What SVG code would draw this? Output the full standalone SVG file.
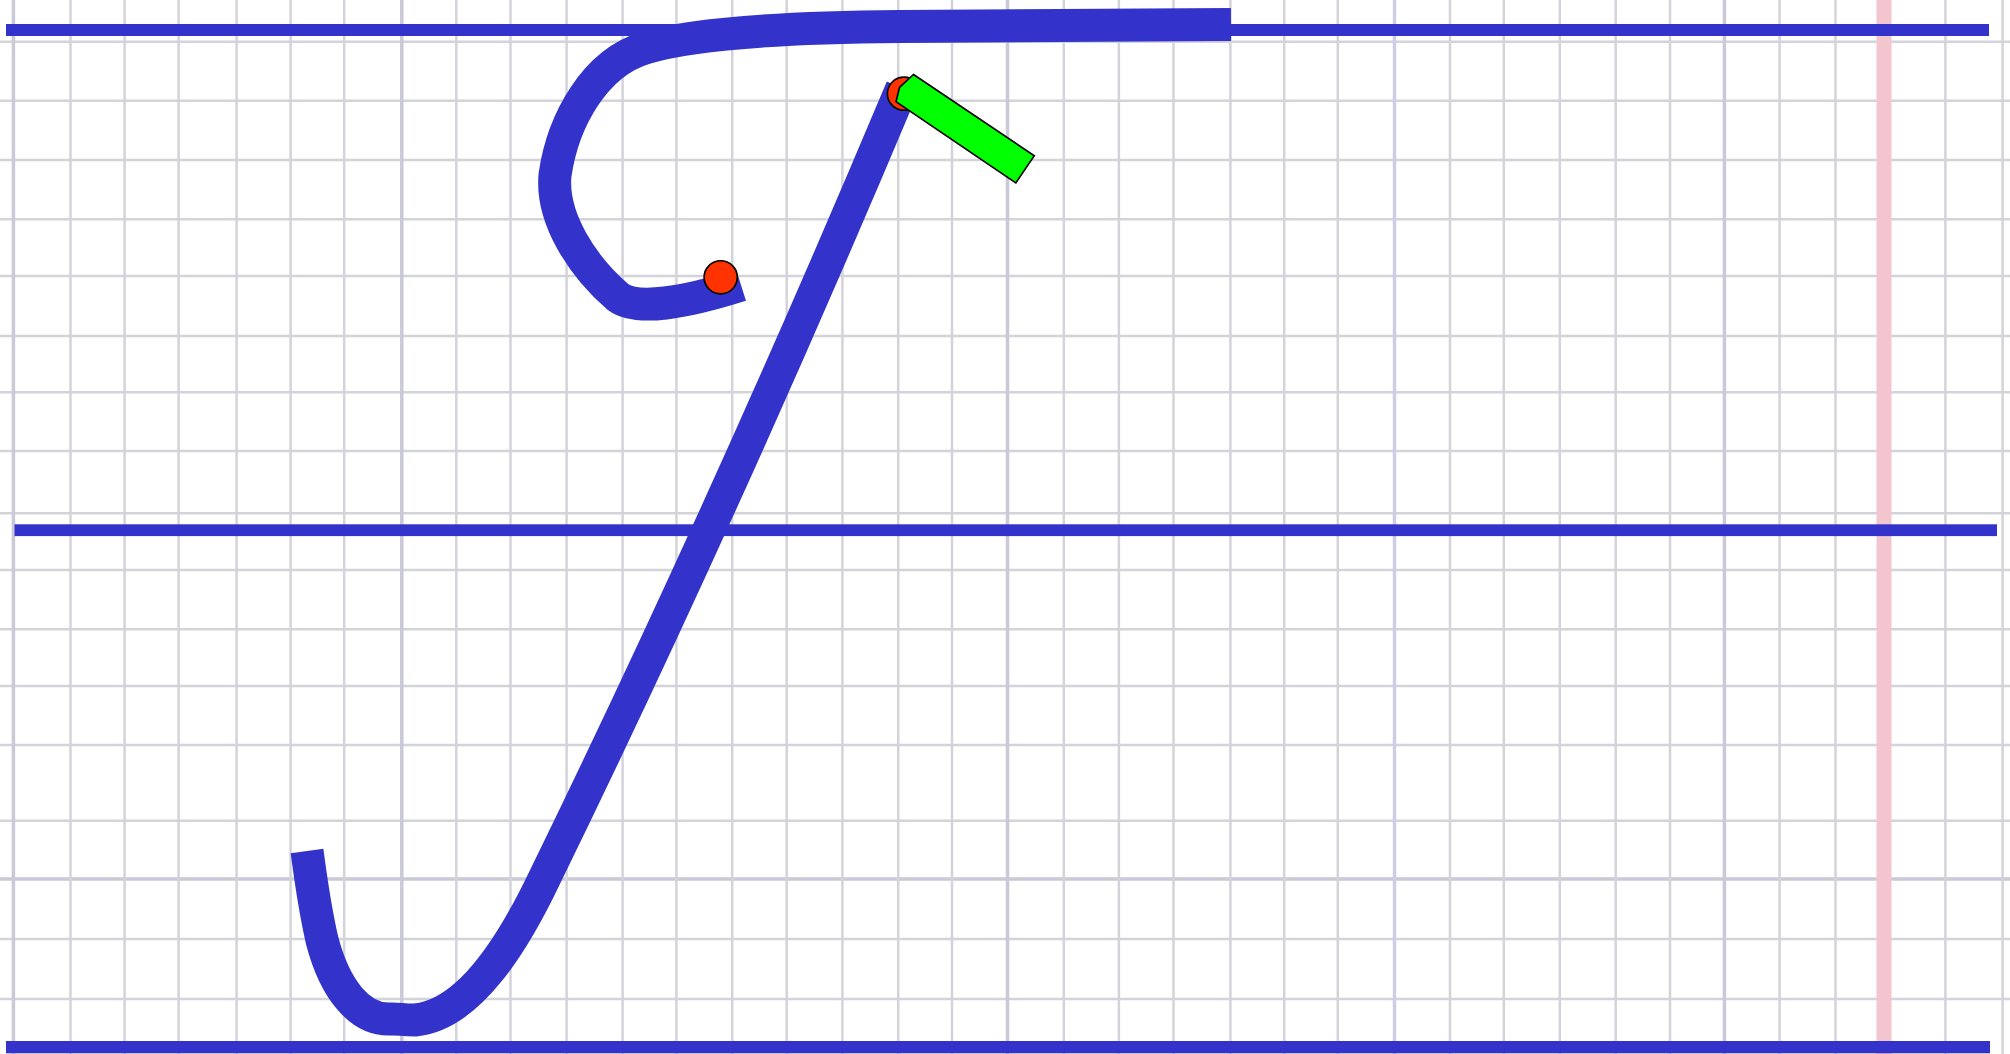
<svg xmlns="http://www.w3.org/2000/svg" width="2010" height="1054" viewBox="0 0 2010 1054">
<style>
.g{stroke:#d3d3da;stroke-width:2.5;fill:none}
.gd{stroke:#c9c9d8;stroke-width:3.5;fill:none}
.guide{fill:#3333cc}
.ink{fill:none;stroke:#3333cc;stroke-width:33;stroke-linecap:butt;stroke-linejoin:round}
.dot{fill:#ff3300;stroke:#000;stroke-width:1.6}
.nib{fill:#00ff00;stroke:#000;stroke-width:1.6;stroke-linejoin:miter}
</style>
<rect width="2010" height="1054" fill="#ffffff"/>
<g id="grid">
<g id="grid-h">
<line class="g" x1="0" y1="41.7" x2="2010" y2="41.7"/>
<line class="g" x1="0" y1="100.7" x2="2010" y2="100.7"/>
<line class="g" x1="0" y1="160" x2="2010" y2="160"/>
<line class="g" x1="0" y1="219.3" x2="2010" y2="219.3"/>
<line class="g" x1="0" y1="276" x2="2010" y2="276"/>
<line class="g" x1="0" y1="336" x2="2010" y2="336"/>
<line class="g" x1="0" y1="392.3" x2="2010" y2="392.3"/>
<line class="g" x1="0" y1="451" x2="2010" y2="451"/>
<line class="g" x1="0" y1="513.3" x2="2010" y2="513.3"/>
<line class="g" x1="0" y1="570" x2="2010" y2="570"/>
<line class="g" x1="0" y1="629.3" x2="2010" y2="629.3"/>
<line class="g" x1="0" y1="686" x2="2010" y2="686"/>
<line class="g" x1="0" y1="745" x2="2010" y2="745"/>
<line class="g" x1="0" y1="820.7" x2="2010" y2="820.7"/>
<line class="gd" x1="0" y1="879" x2="2010" y2="879"/>
<line class="g" x1="0" y1="939" x2="2010" y2="939"/>
<line class="g" x1="0" y1="999" x2="2010" y2="999"/>
</g>
<g id="grid-v">
<line class="gd" x1="13.4" y1="0" x2="13.4" y2="1054"/>
<line class="g" x1="70.5" y1="0" x2="70.5" y2="1054"/>
<line class="g" x1="124.6" y1="0" x2="124.6" y2="1054"/>
<line class="g" x1="178.6" y1="0" x2="178.6" y2="1054"/>
<line class="g" x1="236.6" y1="0" x2="236.6" y2="1054"/>
<line class="g" x1="290.6" y1="0" x2="290.6" y2="1054"/>
<line class="g" x1="344.2" y1="0" x2="344.2" y2="1054"/>
<line class="gd" x1="401.8" y1="0" x2="401.8" y2="1054"/>
<line class="g" x1="456.3" y1="0" x2="456.3" y2="1054"/>
<line class="g" x1="510.5" y1="0" x2="510.5" y2="1054"/>
<line class="g" x1="566.6" y1="0" x2="566.6" y2="1054"/>
<line class="g" x1="622.6" y1="0" x2="622.6" y2="1054"/>
<line class="g" x1="676.4" y1="0" x2="676.4" y2="1054"/>
<line class="g" x1="732.2" y1="0" x2="732.2" y2="1054"/>
<line class="g" x1="786.7" y1="0" x2="786.7" y2="1054"/>
<line class="g" x1="842.4" y1="0" x2="842.4" y2="1054"/>
<line class="g" x1="898.2" y1="0" x2="898.2" y2="1054"/>
<line class="g" x1="952" y1="0" x2="952" y2="1054"/>
<line class="gd" x1="1007.5" y1="0" x2="1007.5" y2="1054"/>
<line class="g" x1="1063.8" y1="0" x2="1063.8" y2="1054"/>
<line class="g" x1="1118.9" y1="0" x2="1118.9" y2="1054"/>
<line class="g" x1="1173.5" y1="0" x2="1173.5" y2="1054"/>
<line class="g" x1="1230.4" y1="0" x2="1230.4" y2="1054"/>
<line class="g" x1="1284.2" y1="0" x2="1284.2" y2="1054"/>
<line class="g" x1="1337.8" y1="0" x2="1337.8" y2="1054"/>
<line class="gd" x1="1394.5" y1="0" x2="1394.5" y2="1054" style="stroke:#cdcde6"/>
<line class="g" x1="1450" y1="0" x2="1450" y2="1054"/>
<line class="g" x1="1503.8" y1="0" x2="1503.8" y2="1054"/>
<line class="g" x1="1559.8" y1="0" x2="1559.8" y2="1054"/>
<line class="g" x1="1615.7" y1="0" x2="1615.7" y2="1054"/>
<line class="g" x1="1670" y1="0" x2="1670" y2="1054"/>
<line class="gd" x1="1724.4" y1="0" x2="1724.4" y2="1054"/>
<line class="g" x1="1779.6" y1="0" x2="1779.6" y2="1054"/>
<line class="g" x1="1835.5" y1="0" x2="1835.5" y2="1054"/>
<line class="g" x1="1945.4" y1="0" x2="1945.4" y2="1054"/>
<line class="g" x1="2002.6" y1="0" x2="2002.6" y2="1054"/>
</g>
<rect id="margin" x="1876.5" y="0" width="15" height="1054" fill="#f3c6cf"/>
</g>
<g id="guidelines">
<rect id="guide-top" class="guide" x="6" y="24" width="1983" height="12"/>
<rect id="guide-mid" class="guide" x="14.5" y="524.3" width="1982.5" height="11.8"/>
<rect id="guide-bottom" class="guide" x="6" y="1041" width="1984" height="12.3"/>
</g>
<g id="strokes">
<path id="stroke-top" class="ink" d="M 1231 24.5 L 900 26.5 C 780 27.5 690 34 645 48 C 595 63 563 120 555 175 C 551 218 582 266 618 297 C 637 311 684 303 741 285"/>
<path id="stroke-stem" class="ink" d="M 902 88 C 792 350 672 617 545 877 C 515 940 470 1015 415 1020 C 402 1020 398 1018.5 390 1019 C 360 1020 335 990 322 940 C 314 905 311 880 307 851"/>
</g>
<g id="start-top">
<circle class="dot" cx="720.7" cy="277.3" r="16.6"/>
</g>
<g id="start-stem">
<circle class="dot" cx="904" cy="93.7" r="16.6"/>
</g>
<g id="pen-nib">
<polygon class="nib" points="913.5,74.5 1034.3,155.8 1015.8,183 896,101.7 899.5,87.5"/>
</g>
</svg>
